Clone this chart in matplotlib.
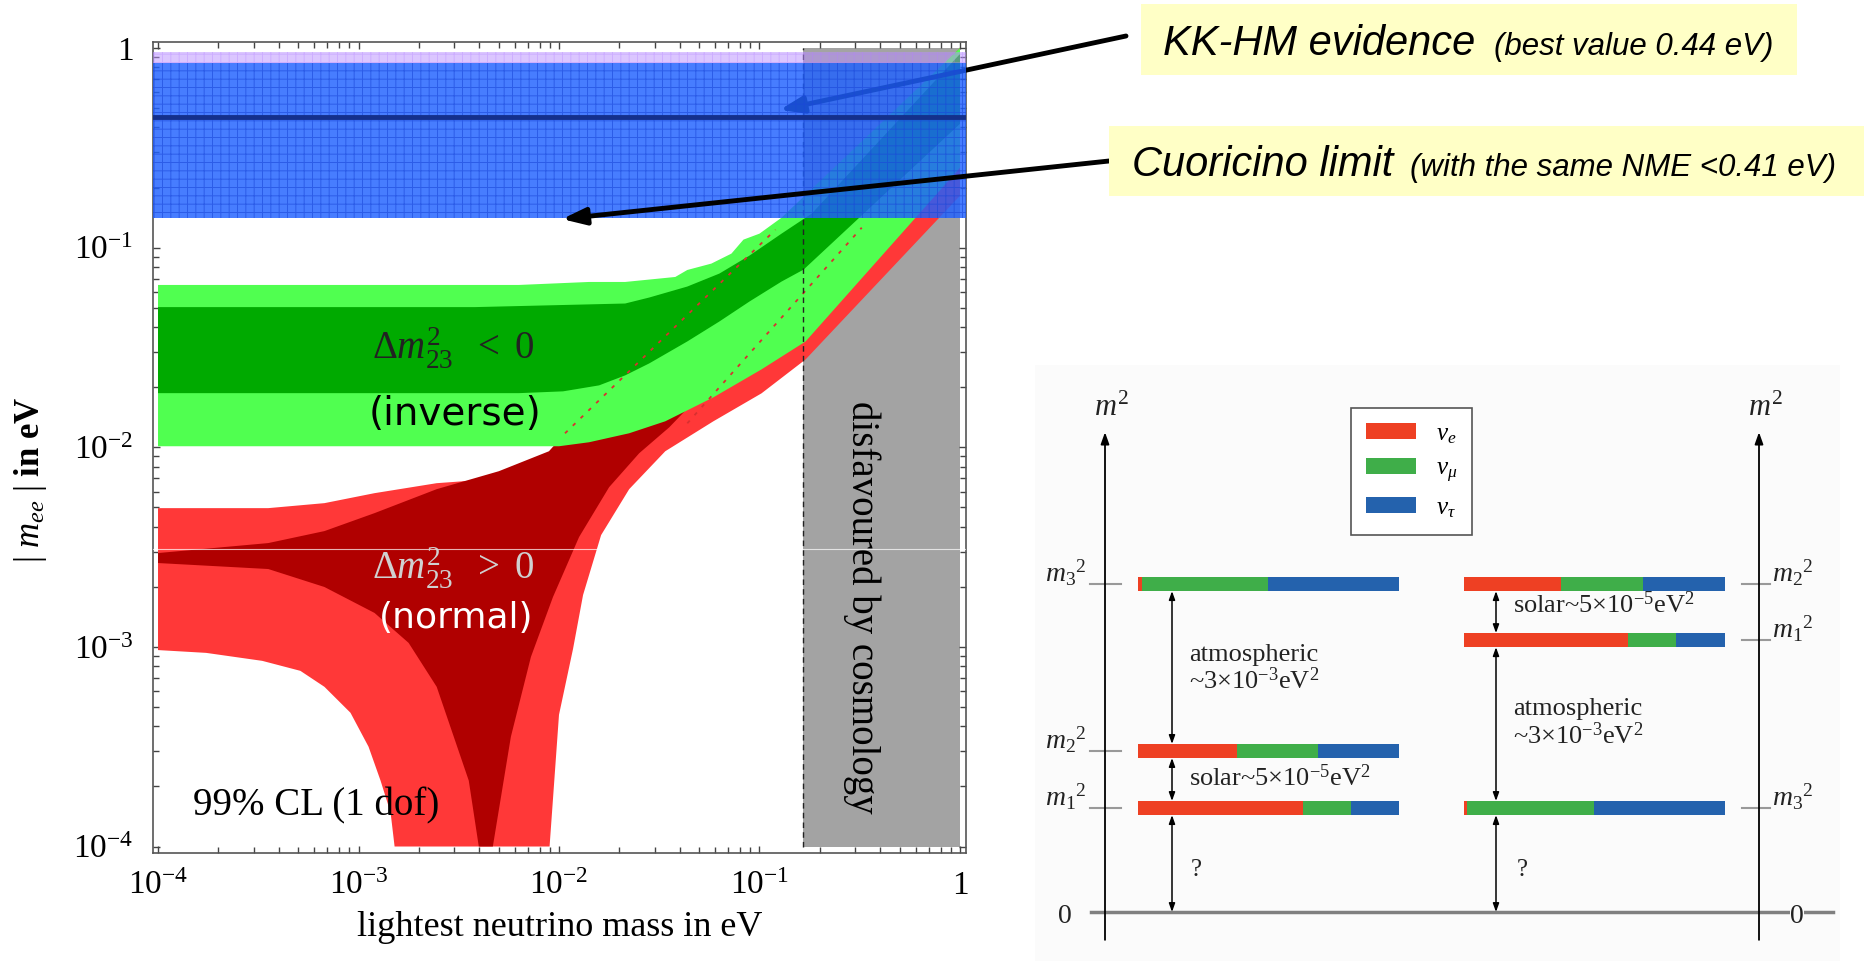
import numpy as np
import matplotlib
matplotlib.use('Agg')
import matplotlib.pyplot as plt
from matplotlib.patches import Rectangle, Patch

plt.rcParams['font.family'] = 'serif'
plt.rcParams['font.serif'] = ['Liberation Serif', 'DejaVu Serif']
plt.rcParams['mathtext.fontset'] = 'custom'
plt.rcParams['mathtext.rm'] = 'Liberation Serif'
plt.rcParams['mathtext.it'] = 'Liberation Serif:italic'
plt.rcParams['mathtext.bf'] = 'Liberation Serif:bold'
plt.rcParams['hatch.linewidth'] = 0.7

# ---------------- data (log10 of eV) ----------------
# inverted hierarchy, 99% CL (light green): upper edge left->right, lower edge right->left
ih_out_up_x = [-4.0, -2.2, -1.85, -1.67, -1.42, -1.36, -1.24, -1.14, -1.08, -1.0, -0.89, 0.0]
ih_out_up_y = [-1.187, -1.187, -1.172, -1.172, -1.147, -1.112, -1.08, -1.03, -0.96, -0.93, -0.85, 0.0]
ih_out_lo_x = [0.0, -0.77, -0.99, -1.23, -1.47, -1.65, -1.85, -2.0, -4.0]
ih_out_lo_y = [-0.6, -1.47, -1.61, -1.75, -1.87, -1.93, -1.975, -1.995, -1.995]
# inverted hierarchy, best fit band (dark green)
ih_in_up_x = [-4.0, -2.42, -1.67, -1.55, -1.36, -1.2, -1.05, -0.89, -0.74, 0.0]
ih_in_up_y = [-1.298, -1.298, -1.28, -1.25, -1.195, -1.13, -1.04, -0.93, -0.83, -0.03]
ih_in_lo_x = [0.0, -0.78, -0.89, -1.05, -1.2, -1.36, -1.55, -1.67, -1.80, -1.98, -2.2, -4.0]
ih_in_lo_y = [-0.38, -1.11, -1.17, -1.27, -1.37, -1.47, -1.58, -1.64, -1.69, -1.72, -1.729, -1.729]
# normal hierarchy, 99% CL (light red)
nh_out_up_x = [-4.0, -3.45, -3.17, -2.92, -2.61, -2.2, -2.05, -1.8, -1.5, -1.0, 0.0]
nh_out_up_y = [-2.305, -2.305, -2.28, -2.23, -2.18, -2.15, -2.06, -1.99, -1.62, -1.02, 0.0]
nh_out_lo_x = [0.0, -0.77, -0.99, -1.23, -1.47, -1.65, -1.79, -1.88, -1.93, -2.0, -2.047,
               -2.82, -2.84, -2.89, -2.95, -3.04, -3.17, -3.29, -3.48, -3.76, -4.0]
nh_out_lo_y = [-0.74, -1.56, -1.73, -1.87, -2.02, -2.21, -2.44, -2.74, -3.01, -3.34, -4.0,
               -4.0, -3.83, -3.67, -3.50, -3.33, -3.20, -3.12, -3.07, -3.03, -3.016]
# normal hierarchy, best fit band (dark red)
nh_in_up_x = [-4.0, -3.45, -3.17, -2.92, -2.61, -2.3, -2.05, -1.97, -0.92, 0.0]
nh_in_up_y = [-2.53, -2.48, -2.42, -2.33, -2.21, -2.12, -2.02, -1.93, -0.91, -0.02]
nh_in_lo_x = [0.0, -0.49, -1.45, -1.6, -1.75, -1.9, -2.03, -2.14, -2.24, -2.33,
              -2.40, -2.45, -2.61, -2.75, -2.92, -3.17, -3.45, -4.0]
nh_in_lo_y = [-0.36, -0.90, -1.90, -2.03, -2.2, -2.45, -2.75, -3.05, -3.45, -4.0,
              -4.0, -3.67, -3.20, -2.98, -2.83, -2.70, -2.61, -2.58]
# dotted continuation of the dark red edges through the green band
dot1_x, dot1_y = [-1.97, -0.92], [-1.93, -0.91]
dot2_x, dot2_y = [-1.36, -0.49], [-1.88, -0.90]

cosmo_min = 0.165            # disfavoured by cosmology above this mass
kk_lo, kk_hi = 0.14, 0.84    # KK-HM band
kk_top = 0.95                # light purple strip
kk_best = 0.45
stray_line = 0.0031

# arrow tips (eV)
kk_tip = (0.126, 0.489)
cuore_tip = (0.01035, 0.139)

# mass level diagram
flavours = [r'$\nu_e$', r'$\nu_\mu$', r'$\nu_\tau$']
flav_colours = ['#ee4023', '#3fae49', '#2462ad']
nh_levels = [3.17, 4.91, 10.0]    # m1^2, m2^2, m3^2 (schematic)
ih_levels = [3.17, 8.29, 10.0]    # m3^2, m1^2, m2^2 (schematic)
nh_frac = [[0.632, 0.184, 0.184], [0.38, 0.31, 0.31], [0.015, 0.483, 0.502]]
ih_frac = [[0.011, 0.487, 0.502], [0.628, 0.184, 0.188], [0.372, 0.314, 0.314]]
nh_names = [r'$m_1{}^2$', r'$m_2{}^2$', r'$m_3{}^2$']
ih_names = [r'$m_3{}^2$', r'$m_1{}^2$', r'$m_2{}^2$']

W, H = 1865, 961
fig = plt.figure(figsize=(W / 100, H / 100), dpi=100)


def fx(px):
    return px / W


def fy(py):
    return 1 - py / H


def band(xu, yu, xl, yl):
    return 10 ** np.array(xu + xl), 10 ** np.array(yu + yl)


ax = fig.add_axes([fx(153), fy(852.5), fx(966) - fx(153), fy(42) - fy(852.5)])
ax.set_xscale('log')
ax.set_yscale('log')
ax.set_xlim(10 ** -4.025, 10 ** 0.03)
ax.set_ylim(10 ** -4.03, 10 ** 0.03)

ax.fill_between([cosmo_min, 1.0], 1e-4, 1.0, color='#a3a3a3', lw=0, zorder=1)
ax.fill(*band(nh_out_up_x, nh_out_up_y, nh_out_lo_x, nh_out_lo_y), color='#ff3838', lw=0, zorder=2)
ax.fill(*band(nh_in_up_x, nh_in_up_y, nh_in_lo_x, nh_in_lo_y), color='#b00000', lw=0, zorder=3)
ax.fill(*band(ih_out_up_x, ih_out_up_y, ih_out_lo_x, ih_out_lo_y), color='#50ff50', lw=0, zorder=4)
ax.fill(*band(ih_in_up_x, ih_in_up_y, ih_in_lo_x, ih_in_lo_y), color='#00aa00', lw=0, zorder=5)
for dx, dy in [(dot1_x, dot1_y), (dot2_x, dot2_y)]:
    ax.plot(10 ** np.array(dx), 10 ** np.array(dy), color='#d83030', lw=1.3,
            ls=(0, (2, 4)), zorder=6)
ax.plot([cosmo_min, cosmo_min], [1e-4, 1.0], color='#222222', lw=1, ls=(0, (4, 3)), zorder=6)
ax.axhline(stray_line, color='white', lw=0.8, alpha=0.7, zorder=6.5)

ax.axhspan(kk_lo, kk_hi, facecolor=(0.12, 0.38, 1.0, 0.82),
           edgecolor=(0.1, 0.28, 0.85, 0.6), hatch='++', lw=0, zorder=7)
ax.axhspan(kk_hi, kk_top, facecolor=(0.72, 0.56, 1.0, 0.5),
           edgecolor=(0.7, 0.5, 1.0, 0.35), hatch='++', lw=0, zorder=7)
ax.axhline(kk_best, color='#14308c', lw=3.5, zorder=7.5)

ax.text(0.369, 0.622, r'$\Delta m^2_{23}\ \ <\ 0$', transform=ax.transAxes, fontsize=28,
        ha='center', va='center', color='#222222', zorder=8)
ax.text(0.3715, 0.541, '(inverse)', transform=ax.transAxes, fontsize=28, family='DejaVu Sans',
        ha='center', va='center', color='black', zorder=8)
ax.text(0.369, 0.351, r'$\Delta m^2_{23}\ \ >\ 0$', transform=ax.transAxes, fontsize=28,
        ha='center', va='center', color='#d0d0d0', zorder=8)
ax.text(0.3727, 0.289, '(normal)', transform=ax.transAxes, fontsize=26, family='DejaVu Sans',
        ha='center', va='center', color='white', zorder=8)
ax.text(0.2005, 0.0574, '99% CL (1 dof)', transform=ax.transAxes, fontsize=28,
        ha='center', va='center', zorder=8)
ax.text(0.872, 0.303, 'disfavoured by cosmology', transform=ax.transAxes, fontsize=28,
        rotation=-90, ha='center', va='center', zorder=8)

ticks = [1e-4, 1e-3, 1e-2, 1e-1, 1]
tick_labels = [r'$10^{-4}$', r'$10^{-3}$', r'$10^{-2}$', r'$10^{-1}$', '1']
ax.set_xticks(ticks)
ax.set_xticklabels(tick_labels)
ax.set_yticks(ticks)
ax.set_yticklabels(tick_labels)
ax.tick_params(which='both', direction='in', top=True, right=True, color='#444444')
ax.tick_params(which='major', length=5, width=1, labelsize=24)
ax.tick_params(which='minor', length=4, width=1)
ax.tick_params(axis='x', pad=13)
ax.tick_params(axis='y', pad=14)
for s in ax.spines.values():
    s.set_color('#555555')
    s.set_linewidth(1.2)

ax.set_xlabel('lightest neutrino mass in eV', fontsize=26)
ax.xaxis.set_label_coords(0.5, -0.092)
ax.xaxis.label.set_va('center')
ax.set_ylabel(r'$|\ m_{ee}\ |$ in eV', fontsize=25, fontweight='bold')
ax.yaxis.set_label_coords(-0.151, 0.46)
ax.yaxis.label.set_va('center')

arrow_kw = dict(arrowstyle='-|>,head_length=1.4,head_width=0.5', lw=3.5, color='black',
                shrinkA=0, shrinkB=0)
ax.annotate('', xy=kk_tip, xycoords='data', xytext=(fx(1126), fy(36)),
            textcoords='figure fraction', arrowprops=arrow_kw, annotation_clip=False, zorder=6.9)
ax.annotate('', xy=cuore_tip, xycoords='data', xytext=(fx(1109), fy(161)),
            textcoords='figure fraction', arrowprops=arrow_kw, annotation_clip=False, zorder=9)

# yellow callout boxes
for (x0, y0, x1, y1) in [(1141, 4, 1797, 75), (1109, 126, 1865, 196)]:
    fig.patches.append(Rectangle((fx(x0), fy(y1)), fx(x1) - fx(x0), fy(y0) - fy(y1),
                                 transform=fig.transFigure, facecolor='#ffffc6',
                                 edgecolor='none', zorder=0))
sans = dict(family='Liberation Sans', style='italic', va='baseline')
fig.text(fx(1163), fy(55), 'KK-HM evidence', fontsize=30, **sans)
fig.text(fx(1494), fy(55), '(best value 0.44 eV)', fontsize=22.5, **sans)
fig.text(fx(1132), fy(176), 'Cuoricino limit', fontsize=30, **sans)
fig.text(fx(1410), fy(176), '(with the same NME <0.41 eV)', fontsize=22.5, **sans)

# ---------------- mass ordering diagram ----------------
dax = fig.add_axes([fx(1035), fy(961), fx(1840) - fx(1035), fy(365) - fy(961)])
dax.set_xlim(35, 840)
dax.set_ylim(-1.494, 16.68)
dax.set_facecolor('#fbfbfb')
for s in dax.spines.values():
    s.set_visible(False)
dax.set_xticks([])
dax.set_yticks([])

bar_h = 0.43
bar_len = 261
ink = '#222222'
for x0, levels, fracs in [(138, nh_levels, nh_frac), (464, ih_levels, ih_frac)]:
    for lev, fr in zip(levels, fracs):
        left = x0 + bar_len * np.concatenate([[0], np.cumsum(fr)[:-1]])
        dax.barh([lev] * 3, np.array(fr) * bar_len, left=left, height=bar_h,
                 color=flav_colours, lw=0)

for lev, name in zip(nh_levels, nh_names):
    dax.plot([90, 121], [lev, lev], color='#999999', lw=1.5)
    dax.text(86, lev + 0.35, name, fontsize=20, ha='right', va='center', color=ink)
for lev, name in zip(ih_levels, ih_names):
    dax.plot([742, 770], [lev, lev], color='#999999', lw=1.5)
    dax.text(772, lev + 0.35, name, fontsize=20, ha='left', va='center', color=ink)

dax.plot([91, 833], [0, 0], color='#808080', lw=2.5)
dax.text(65, -0.15, '0', fontsize=20, ha='center', va='center', color=ink)
dax.text(797, -0.15, '0', fontsize=20, ha='center', va='center', color=ink,
         bbox=dict(facecolor='#fbfbfb', edgecolor='none', pad=0))
for xa in [105, 759]:
    dax.annotate('', xy=(xa, 14.63), xytext=(xa, -0.85),
                 arrowprops=dict(arrowstyle='-|>,head_length=0.7,head_width=0.25', lw=1.3,
                                 color='black', shrinkA=0, shrinkB=0))
    dax.text(xa + 6, 15.35, '$m^2$', fontsize=22, ha='center', va='center', color=ink)

dbl = dict(arrowstyle='<|-|>,head_length=0.5,head_width=0.18', lw=1.1, color='black',
           shrinkA=0, shrinkB=0)


def gap(xa, lo, hi):
    dax.annotate('', xy=(xa, hi), xytext=(xa, lo), arrowprops=dbl)


gap(172, 0, nh_levels[0] - bar_h / 2)
gap(172, nh_levels[0] + bar_h / 2, nh_levels[1] - bar_h / 2)
gap(172, nh_levels[1] + bar_h / 2, nh_levels[2] - bar_h / 2)
gap(496, 0, ih_levels[0] - bar_h / 2)
gap(496, ih_levels[0] + bar_h / 2, ih_levels[1] - bar_h / 2)
gap(496, ih_levels[1] + bar_h / 2, ih_levels[2] - bar_h / 2)

atm = 'atmospheric\n~3$\\times$10$^{-3}$eV$^2$'
sol = 'solar~5$\\times$10$^{-5}$eV$^2$'
dax.text(189, 7.41, atm, fontsize=19, ha='left', va='center', color=ink, linespacing=1.1)
dax.text(189, 4.09, sol, fontsize=19, ha='left', va='center', color=ink)
dax.text(196, 1.28, '?', fontsize=18, ha='center', va='center', color=ink)
dax.text(513, 5.76, atm, fontsize=19, ha='left', va='center', color=ink, linespacing=1.1)
dax.text(513, 9.36, sol, fontsize=19, ha='left', va='center', color=ink)
dax.text(522, 1.28, '?', fontsize=18, ha='center', va='center', color=ink)

handles = [Patch(facecolor=c, edgecolor='none') for c in flav_colours]
leg = dax.legend(handles, flavours, loc='upper left', bbox_to_anchor=(fx(1351), fy(408)),
                 bbox_transform=fig.transFigure, fancybox=False, edgecolor='#555555',
                 framealpha=1, fontsize=18, handlelength=2.0, handleheight=0.6,
                 labelspacing=0.5, borderpad=0.6, handletextpad=0.8, borderaxespad=0)
leg.get_frame().set_linewidth(1.2)

fig.savefig('out.png', dpi=100, facecolor='white')
